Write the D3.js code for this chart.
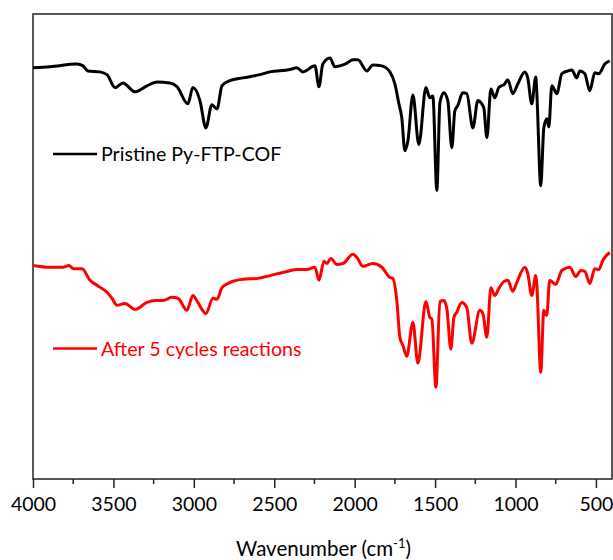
<!DOCTYPE html>
<html><head><meta charset="utf-8">
<script src="https://cdn.jsdelivr.net/npm/d3@7"></script>
<style>body{margin:0;background:#fff}svg{display:block}</style>
</head><body>
<script>
// Wavenumber (cm-1) and transmittance-like values (a.u.)
const pristineWn = [4000,3894,3727,3689,3658,3584,3540,3490,3441,3366,3291,3229,3149,3105,3037,3006,2962,2925,2888,2856,2825,2776,2695,2589,2527,2403,2359,2322,2247,2222,2198,2154,2123,2092,2048,2011,1980,1924,1887,1831,1781,1750,1725,1707,1688,1669,1638,1601,1557,1533,1514,1489,1470,1446,1421,1396,1377,1359,1328,1303,1265,1234,1210,1197,1178,1153,1129,1104,1067,1048,1017,986,942,924,899,874,868,843,824,806,793,774,743,712,675,650,619,600,569,538,507,482,445,414];
const pristineT = [88.4,88.6,89.2,88.8,87.7,87.5,86.9,84.1,85.1,83.2,84.5,85.3,85.1,84.3,80.6,84.1,81.3,75.4,80.4,79.5,84.5,85.6,86.2,86.9,87.5,88.0,88.4,87.5,88.8,84.3,89.2,90.5,88.6,88.8,89.4,90.1,90.1,87.7,89.0,88.8,87.5,84.9,80.6,77.6,70.5,72.6,82.5,71.8,84.1,81.9,82.3,61.9,80.8,83.0,81.3,71.1,79.1,80.2,83.0,82.8,75.4,81.3,80.6,79.7,73.3,83.8,81.9,84.1,84.9,85.8,82.8,84.9,87.5,86.2,80.6,86.4,83.4,62.9,75.4,77.4,75.6,84.5,82.8,87.1,87.7,87.9,86.2,87.7,87.1,83.4,87.3,87.1,89.2,89.9];

const cycledWn = [4000,3894,3814,3776,3751,3695,3646,3602,3540,3509,3478,3428,3366,3291,3242,3192,3136,3099,3043,3006,2975,2925,2881,2856,2825,2776,2695,2602,2527,2421,2359,2297,2247,2222,2191,2173,2148,2111,2073,2011,1986,1949,1887,1831,1781,1763,1738,1719,1700,1676,1638,1607,1557,1533,1520,1495,1470,1446,1427,1402,1383,1365,1334,1303,1272,1222,1203,1178,1153,1129,1104,1073,1048,1017,992,942,924,899,874,868,843,824,806,787,750,712,663,625,594,569,538,507,482,457,414];
const cycledT = [45.7,45.3,45.3,45.7,45.0,45.0,42.5,41.4,39.9,38.6,37.1,37.5,36.2,37.7,38.1,38.1,38.8,38.6,36.0,39.2,37.7,35.3,38.6,38.4,40.9,42.0,42.7,42.9,43.5,44.4,44.8,44.8,45.3,42.5,46.6,46.1,47.2,45.9,46.1,48.1,47.4,45.5,46.1,45.3,43.1,42.9,38.1,30.2,28.4,26.1,33.4,24.6,37.9,34.5,34.1,19.4,37.9,38.1,36.4,27.6,34.5,35.6,37.7,36.6,28.9,36.0,35.3,30.2,40.9,39.2,40.7,42.2,42.5,40.1,42.0,45.3,44.0,39.2,43.5,41.8,22.6,36.0,34.9,42.5,41.6,44.6,45.3,43.3,44.6,44.4,41.8,45.0,44.8,46.8,48.5];

const seriesNames = ["Pristine Py-FTP-COF", "After 5 cycles reactions"];
const seriesColors = ["#000000", "#ff0000"];
const majorTicks = [4000,3500,3000,2500,2000,1500,1000,500];
const minorTicks = [3750,3250,2750,2250,1750,1250,750];

const W = 613, H = 560;
const m = {l:33, r:1, t:14, b:81};
const svg = d3.select("body").append("svg").attr("width", W).attr("height", H);
const x = d3.scaleLinear().domain([4000, 400]).range([m.l, W - m.r]);
const y = d3.scaleLinear().domain([0, 100]).range([H - m.b - 2, m.t]);

const font = "Lato, 'Open Sans', sans-serif";

// plot frame
svg.append("rect").attr("x", m.l).attr("y", m.t)
  .attr("width", W - m.r - m.l).attr("height", H - m.b - m.t)
  .attr("fill", "none").attr("stroke", "#222").attr("stroke-width", 1.5);

const line = d3.line().x(d => x(d[0])).y(d => y(d[1])).curve(d3.curveMonotoneX);
const series = [d3.zip(pristineWn, pristineT), d3.zip(cycledWn, cycledT)];
series.forEach((s, i) => {
  svg.append("path").datum(s).attr("d", line)
    .attr("fill", "none").attr("stroke", seriesColors[i])
    .attr("stroke-width", 3).attr("stroke-linejoin", "round");
});

// x axis
const gx = svg.append("g").attr("transform", `translate(0,${H - m.b})`);
gx.call(d3.axisBottom(x).tickValues(majorTicks).tickSize(9).tickSizeOuter(0).tickPadding(9).tickFormat(d3.format("d")));
gx.select(".domain").remove();
gx.selectAll(".tick line").attr("stroke", "#222").attr("stroke-width", 1.5);
gx.selectAll(".tick text").attr("font-family", font).attr("font-size", 19.5).attr("fill", "#000");
gx.selectAll(".minor").data(minorTicks).enter().append("line").attr("class", "minor")
  .attr("x1", d => x(d)).attr("x2", d => x(d)).attr("y1", 0).attr("y2", 5)
  .attr("stroke", "#222").attr("stroke-width", 1.5);

const title = svg.append("text").attr("x", (m.l + W - m.r) / 2 + 1).attr("y", 556)
  .attr("text-anchor", "middle").attr("font-family", font).attr("font-size", 20.5).attr("fill", "#000");
title.append("tspan").text("Wavenumber (cm");
title.append("tspan").attr("dy", -8).attr("font-size", 13).text("-1");
title.append("tspan").attr("dy", 8).text(")");

// legends
const legY = [154, 348.5];
seriesNames.forEach((n, i) => {
  svg.append("line").attr("x1", 53).attr("x2", 97).attr("y1", legY[i]).attr("y2", legY[i])
    .attr("stroke", seriesColors[i]).attr("stroke-width", 2.5);
  svg.append("text").attr("x", 101).attr("y", legY[i] + 7).attr("font-family", font)
    .attr("font-size", 19.6).attr("fill", seriesColors[i]).text(n);
});
</script>
</body></html>
